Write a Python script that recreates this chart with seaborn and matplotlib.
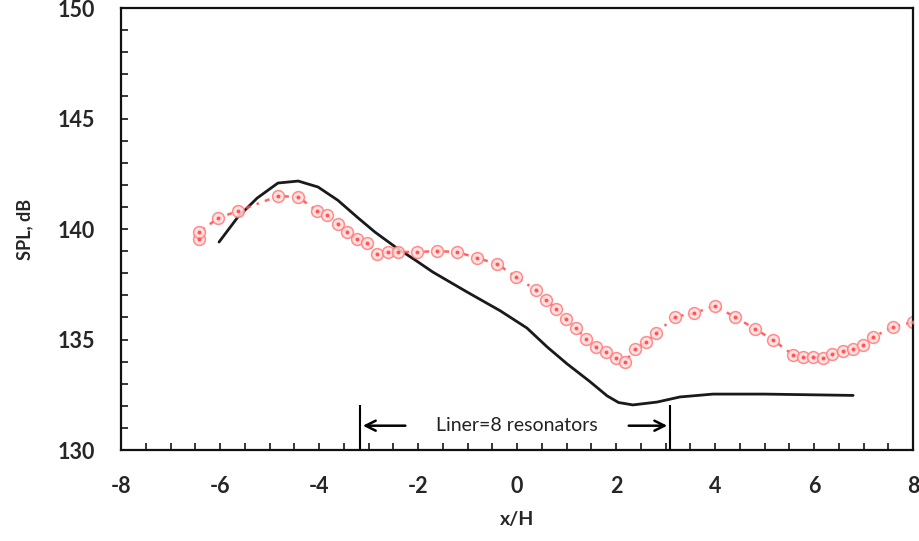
import matplotlib
matplotlib.use("Agg")
import matplotlib.pyplot as plt
import seaborn as sns
import pandas as pd
from matplotlib.ticker import MultipleLocator

# measured SPL (red, circles)
meas_x = [-6.42, -6.42, -6.04, -5.64, -4.83, -4.42, -4.04, -3.84, -3.62, -3.43, -3.23,
          -3.03, -2.83, -2.61, -2.40, -2.02, -1.62, -1.21, -0.81, -0.40, -0.02, 0.38,
          0.59, 0.79, 0.99, 1.19, 1.39, 1.60, 1.80, 2.00, 2.18, 2.38, 2.61, 2.81,
          3.19, 3.58, 4.00, 4.40, 4.81, 5.17, 5.58, 5.78, 5.98, 6.18, 6.36, 6.59,
          6.79, 6.99, 7.19, 7.60, 8.00]
meas_spl = [139.55, 139.85, 140.50, 140.81, 141.49, 141.45, 140.81, 140.63, 140.23, 139.86, 139.55,
            139.37, 138.87, 138.96, 138.96, 138.96, 139.00, 138.96, 138.69, 138.42, 137.83, 137.24,
            136.79, 136.38, 135.93, 135.52, 135.02, 134.66, 134.43, 134.16, 133.98, 134.57, 134.89, 135.29,
            136.02, 136.20, 136.52, 136.02, 135.48, 134.98, 134.30, 134.21, 134.21, 134.16, 134.34, 134.48,
            134.57, 134.75, 135.11, 135.57, 135.79]

# computed SPL (black line)
calc_x = [-6.02, -5.64, -5.25, -4.83, -4.42, -4.02, -3.62, -3.21, -2.87, -2.46, -2.06,
          -1.70, -1.01, -0.34, 0.20, 0.61, 1.01, 1.47, 1.82, 2.05, 2.34, 2.83, 3.29,
          3.96, 5.00, 6.79]
calc_spl = [139.41, 140.54, 141.40, 142.08, 142.17, 141.90, 141.30, 140.50, 139.86, 139.19, 138.60,
            138.05, 137.15, 136.30, 135.52, 134.66, 133.90, 133.10, 132.45, 132.15, 132.04, 132.17, 132.40,
            132.53, 132.53, 132.47]

liner_start, liner_end = -3.17, 3.09
liner_label = "Liner=8 resonators"

meas = pd.DataFrame({"x": meas_x, "spl": meas_spl})
calc = pd.DataFrame({"x": calc_x, "spl": calc_spl})

sns.set_style("ticks")
plt.rcParams["font.family"] = ["Lato", "DejaVu Sans"]
plt.rcParams["axes.unicode_minus"] = False

fig = plt.figure(figsize=(9.19, 5.41), dpi=100)
ax = fig.add_axes([0.1317, 0.1682, 0.8618, 0.817])

sns.lineplot(data=calc, x="x", y="spl", sort=False, estimator=None,
             color="#1a1a1a", linewidth=2.0, ax=ax)
sns.lineplot(data=meas, x="x", y="spl", sort=False, estimator=None,
             color="#ff4a4a", linewidth=1.8, linestyle=(0, (2, 2.5, 1, 2.5)), alpha=0.85,
             marker="o", markersize=8.5, markerfacecolor="#ffdede",
             markeredgecolor="#ff7a7a", markeredgewidth=1.1, ax=ax)
sns.scatterplot(data=meas, x="x", y="spl", color="#ff5555", s=8,
                linewidth=0, ax=ax, zorder=5)

# liner extent annotation
ax.vlines([liner_start, liner_end], 130, 132.05, color="black", linewidth=1.5)
ax.annotate("", xy=(liner_start, 131.1), xytext=(-2.2, 131.1),
            arrowprops=dict(arrowstyle="->", color="black", lw=1.8, mutation_scale=18))
ax.annotate("", xy=(liner_end, 131.1), xytext=(2.2, 131.1),
            arrowprops=dict(arrowstyle="->", color="black", lw=1.8, mutation_scale=18))
ax.text(0.0, 131.1, liner_label, ha="center", va="center", fontsize=14, color="#222222")

ax.set_xlim(-8, 8)
ax.set_ylim(130, 150)
ax.xaxis.set_major_locator(MultipleLocator(2))
ax.xaxis.set_minor_locator(MultipleLocator(0.5))
ax.yaxis.set_major_locator(MultipleLocator(5))
ax.yaxis.set_minor_locator(MultipleLocator(1))
ax.tick_params(which="both", direction="in", length=5, width=1.3, pad=19,
               labelsize=15.5, top=False, right=False)
for lbl in ax.get_xticklabels() + ax.get_yticklabels():
    lbl.set_fontweight("bold")

for side in ["left", "bottom", "top", "right"]:
    ax.spines[side].set_visible(True)
    ax.spines[side].set_linewidth(1.6)
    ax.spines[side].set_color("#111111")

ax.set_xlabel("x/H", fontsize=14, fontweight="bold", labelpad=10)
ax.set_ylabel("SPL, dB", fontsize=13, fontweight="bold", labelpad=17)

fig.savefig("out.png", dpi=100)
